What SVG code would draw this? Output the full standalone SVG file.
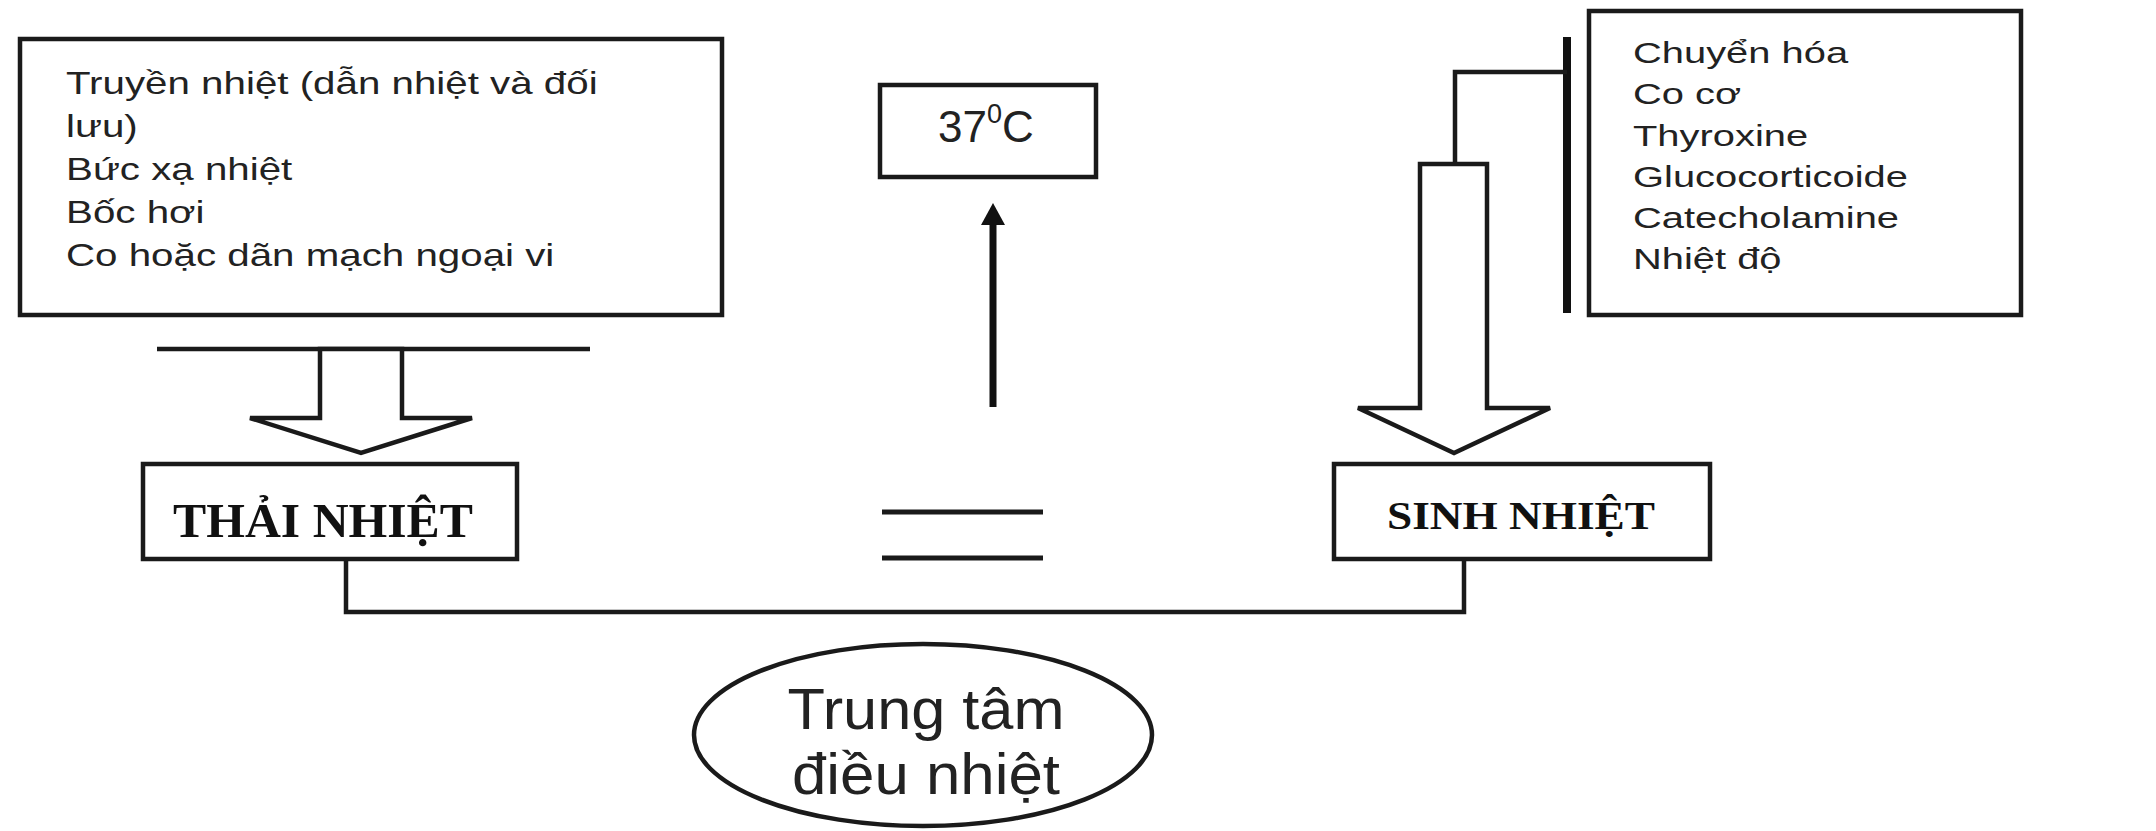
<svg xmlns="http://www.w3.org/2000/svg" width="2156" height="831" viewBox="0 0 2156 831">
  <style>
    .box { fill: #ffffff; stroke: #1a1a1a; stroke-width: 4.5; }
    .wire { fill: none; stroke: #1a1a1a; stroke-width: 4.5; }
    .block { fill: #ffffff; stroke: #1a1a1a; stroke-width: 4.5; stroke-linejoin: miter; }
    .sans { font-family: "Liberation Sans", Arial, sans-serif; fill: #222222; }
    .serif { font-family: "Liberation Serif", "Times New Roman", serif; font-weight: bold; fill: #111111; }
  </style>
  <defs>
    <marker id="head" viewBox="0 0 22 24" refX="0" refY="12" markerWidth="22" markerHeight="24" markerUnits="userSpaceOnUse" orient="auto">
      <path d="M0,0 L22,12 L0,24 z" fill="#111111"/>
    </marker>
  </defs>

  <rect x="0" y="0" width="2156" height="831" fill="#ffffff"/>

  <!-- heat loss factors -->
  <g id="loss-factors">
    <rect class="box" x="20" y="39" width="702" height="276"/>
    <g class="sans" font-size="32" transform="translate(66,0) scale(1.26,1)">
      <text x="0" y="94">Truyền nhiệt (dẫn nhiệt và đối</text>
      <text x="0" y="137">lưu)</text>
      <text x="0" y="180">Bức xạ nhiệt</text>
      <text x="0" y="223">Bốc hơi</text>
      <text x="0" y="266">Co hoặc dãn mạch ngoại vi</text>
    </g>
  </g>

  <!-- heat production factors -->
  <g id="gain-factors">
    <rect class="box" x="1589" y="11" width="432" height="304"/>
    <g class="sans" font-size="30" transform="translate(1633,0) scale(1.33,1)">
      <text x="0" y="63">Chuyển hóa</text>
      <text x="0" y="104">Co cơ</text>
      <text x="0" y="146">Thyroxine</text>
      <text x="0" y="187">Glucocorticoide</text>
      <text x="0" y="228">Catecholamine</text>
      <text x="0" y="269">Nhiệt độ</text>
    </g>
  </g>

  <!-- set point -->
  <g id="setpoint">
    <rect class="box" x="880" y="85" width="216" height="92"/>
    <text class="sans" x="938" y="142" font-size="44">37<tspan font-size="27" dy="-19">0</tspan><tspan dy="19">C</tspan></text>
  </g>

  <!-- heat loss -->
  <g id="heat-loss">
    <rect class="box" x="143" y="464" width="374" height="95"/>
    <text class="serif" x="323" y="537" font-size="48" text-anchor="middle" textLength="300" lengthAdjust="spacingAndGlyphs">THẢI NHIỆT</text>
  </g>

  <!-- heat production -->
  <g id="heat-gain">
    <rect class="box" x="1334" y="464" width="376" height="95"/>
    <text class="serif" x="1521" y="529" font-size="39" text-anchor="middle" textLength="268" lengthAdjust="spacingAndGlyphs">SINH NHIỆT</text>
  </g>

  <!-- balance sign -->
  <g id="balance">
    <line x1="882" y1="512" x2="1043" y2="512" stroke="#1a1a1a" stroke-width="5"/>
    <line x1="882" y1="558" x2="1043" y2="558" stroke="#1a1a1a" stroke-width="5"/>
  </g>

  <!-- regulating centre -->
  <g id="centre">
    <ellipse cx="923" cy="735" rx="229" ry="91" fill="#ffffff" stroke="#1a1a1a" stroke-width="4.5"/>
    <text class="sans" x="926" y="729" font-size="57" text-anchor="middle" textLength="277" lengthAdjust="spacingAndGlyphs">Trung tâm</text>
    <text class="sans" x="926" y="794" font-size="57" text-anchor="middle" textLength="268" lengthAdjust="spacingAndGlyphs">điều nhiệt</text>
  </g>

  <g id="connectors">
    <!-- bar under the heat loss box and hollow arrow down -->
    <line class="wire" x1="157" y1="349" x2="590" y2="349" stroke-width="5"/>
    <polygon class="block" points="320,349 320,418 250,418 361,453 472,418 402,418 402,349"/>

    <!-- bracket beside the heat production box and hollow arrow down -->
    <line x1="1567" y1="37" x2="1567" y2="313" stroke="#111111" stroke-width="8"/>
    <path class="wire" d="M1567,72 H1455 V164"/>
    <polygon class="block" points="1420,164 1420,408 1358,408 1454,453 1550,408 1487,408 1487,164"/>

    <!-- up arrow to the set point -->
    <line x1="993" y1="407" x2="993" y2="225" stroke="#111111" stroke-width="7" marker-end="url(#head)"/>

    <!-- link between the two effector boxes -->
    <path class="wire" d="M346,559 V612 H1464 V559"/>
  </g>
</svg>
